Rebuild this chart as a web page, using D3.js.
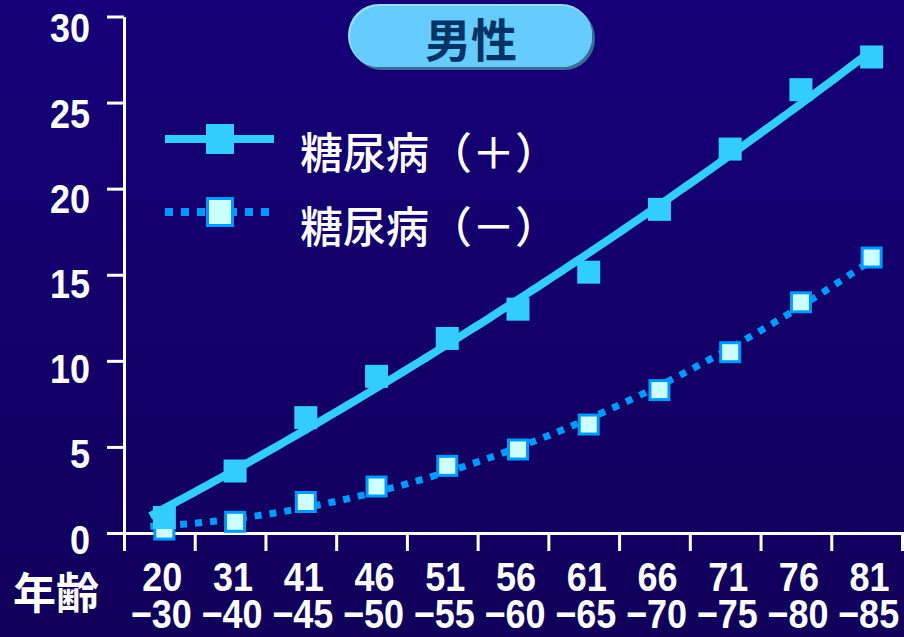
<!DOCTYPE html>
<html><head><meta charset="utf-8">
<script src="https://cdn.jsdelivr.net/npm/d3@7"></script>
<style>html,body{margin:0;padding:0;background:#130074;} svg{display:block}</style>
</head><body><svg id="chart" width="904" height="637"></svg>
<script>
// Age groups (two-line labels), series values (%) and axis ticks
const ageFrom = ["20","31","41","46","51","56","61","66","71","76","81"];
const ageTo = ["−30","−40","−45","−50","−55","−60","−65","−70","−75","−80","−85"];
const withDiabetes = [0.9, 3.6, 6.7, 9.1, 11.3, 13.0, 15.15, 18.8, 22.3, 25.75, 27.65];
const withoutDiabetes = [0.2, 0.65, 1.8, 2.7, 3.9, 4.85, 6.3, 8.3, 10.5, 13.4, 16.0];
const yTicks = [0, 5, 10, 15, 20, 25, 30];
const seriesNames = ["糖尿病（＋）", "糖尿病（－）"];
const titleText = "男性";
const xTitle = "年齢";

const svg = d3.select("#chart");
const W = 904, H = 637;

// background gradient
const defs = svg.append("defs");
const bg = defs.append("linearGradient").attr("id", "bg").attr("x1", 0).attr("y1", 0).attr("x2", 0).attr("y2", 1);
bg.append("stop").attr("offset", "0%").attr("stop-color", "#150079");
bg.append("stop").attr("offset", "100%").attr("stop-color", "#10005a");
svg.append("rect").attr("width", W).attr("height", H).attr("fill", "url(#bg)");

// scales
const x = d3.scaleBand().domain(d3.range(ageFrom.length)).range([124, 902]);
const xEdges = d3.scaleLinear().domain([0, ageFrom.length]).range([124, 902]);
const bw = x.bandwidth();
const px = i => x(i) + bw / 2 + 5;
const xi = d3.scaleLinear().domain([0, ageFrom.length - 1]).range([px(0), px(ageFrom.length - 1)]);
const y = d3.scaleLinear().domain([0, 30]).range([533, 16.5]);

const axisColor = "#ffffff";
const font = "'Liberation Sans', Arial, sans-serif";
const cjk = "'Noto Sans CJK JP', 'Noto Sans CJK SC', sans-serif";
const sx = 0.9; // horizontal squeeze of numeric labels

// y axis
const gy = svg.append("g").attr("transform", "translate(124,0)")
  .call(d3.axisLeft(y).tickValues(yTicks).tickSize(17).tickSizeOuter(0));
gy.select(".domain").attr("stroke", axisColor).attr("stroke-width", 3);
gy.selectAll(".tick line").attr("stroke", axisColor).attr("stroke-width", 3);
gy.selectAll(".tick text").attr("fill", "#fff").attr("font-family", font)
  .attr("font-weight", "bold").attr("font-size", 40)
  .attr("x", -34 / sx).attr("dy", d => 20 + d * 0.18)
  .attr("transform", `scale(${sx},1)`);

// x axis: ticks at band edges
const gx = svg.append("g").attr("transform", "translate(0,533)")
  .call(d3.axisBottom(xEdges).tickValues(d3.range(0, ageFrom.length + 1)).tickSize(18).tickFormat(""));
gx.select(".domain").attr("stroke", axisColor).attr("stroke-width", 3);
gx.selectAll(".tick line").attr("stroke", axisColor).attr("stroke-width", 3);

// x labels: one text per age group, two lines
const xl = svg.append("g").attr("transform", `scale(${sx},1)`);
const xt = xl.selectAll("text").data(ageFrom).join("text")
  .attr("text-anchor", "middle").attr("fill", "#fff").attr("font-family", font)
  .attr("font-weight", "bold").attr("font-size", 40);
xt.append("tspan").attr("x", (d, i) => (x(i) + bw / 2 + 3) / sx).attr("y", 591).text(d => d);
xt.append("tspan").attr("x", (d, i) => (x(i) + bw / 2 + 2) / sx).attr("y", 628).text((d, i) => ageTo[i]);
svg.append("text").attr("x", 56).attr("y", 609).attr("text-anchor", "middle")
  .attr("fill", "#fff").attr("font-family", cjk).attr("font-weight", "bold")
  .attr("font-size", 43).text(xTitle);

// least-squares polynomial trend
function polyfit(ys, deg) {
  const n = deg + 1;
  const A = Array.from({length: n}, () => new Array(n + 1).fill(0));
  ys.forEach((v, i) => {
    for (let r = 0; r < n; r++) {
      for (let c = 0; c < n; c++) A[r][c] += Math.pow(i, r + c);
      A[r][n] += v * Math.pow(i, r);
    }
  });
  for (let k = 0; k < n; k++) {
    let p = k;
    for (let r = k + 1; r < n; r++) if (Math.abs(A[r][k]) > Math.abs(A[p][k])) p = r;
    [A[k], A[p]] = [A[p], A[k]];
    for (let r = 0; r < n; r++) {
      if (r === k) continue;
      const f = A[r][k] / A[k][k];
      for (let c = k; c <= n; c++) A[r][c] -= f * A[k][c];
    }
  }
  const coef = A.map((row, k) => row[n] / row[k]);
  return t => coef.reduce((s, c, k) => s + c * Math.pow(t, k), 0);
}

const trendT = d3.range(-0.2, ageFrom.length - 1 + 0.001, 0.1);
const fitA = polyfit(withDiabetes, 2);
const fitB = polyfit(withoutDiabetes, 2);
const trendLine = d3.line().x(d => xi(d[0])).y(d => y(d[1]));

svg.append("path").datum(trendT.map(t => [t, fitB(t)]))
  .attr("d", trendLine).attr("fill", "none").attr("stroke", "#0099ff")
  .attr("stroke-width", 7).attr("stroke-dasharray", "7 8");
svg.append("path").datum(trendT.map(t => [t, fitA(t)]))
  .attr("d", trendLine).attr("fill", "none").attr("stroke", "#33ccff")
  .attr("stroke-width", 8);

// markers
const msA = 23, msB = 19;
svg.append("g").selectAll("rect").data(withoutDiabetes).join("rect")
  .attr("x", (d, i) => px(i) - msB / 2).attr("y", d => y(d) - msB / 2)
  .attr("width", msB).attr("height", msB)
  .attr("fill", "#ccffff").attr("stroke", "#0099ff").attr("stroke-width", 3);
svg.append("g").selectAll("rect").data(withDiabetes).join("rect")
  .attr("x", (d, i) => px(i) - msA / 2).attr("y", d => y(d) - msA / 2)
  .attr("width", msA).attr("height", msA).attr("fill", "#33ccff");

// legend
const lg = svg.append("g");
lg.append("line").attr("x1", 165).attr("x2", 274).attr("y1", 139).attr("y2", 139)
  .attr("stroke", "#33ccff").attr("stroke-width", 8);
lg.append("rect").attr("x", 206).attr("y", 124).attr("width", 28).attr("height", 30).attr("fill", "#33ccff");
lg.append("line").attr("x1", 165).attr("x2", 274).attr("y1", 212).attr("y2", 212)
  .attr("stroke", "#0099ff").attr("stroke-width", 8).attr("stroke-dasharray", "8 8");
lg.append("rect").attr("x", 207.5).attr("y", 198.5).attr("width", 25).attr("height", 27)
  .attr("fill", "#ccffff").attr("stroke", "#0099ff").attr("stroke-width", 3);
lg.selectAll("text").data(seriesNames).join("text")
  .attr("x", 300).attr("y", (d, i) => 169 + i * 74)
  .attr("fill", "#fff").attr("font-family", cjk).attr("font-size", 43).attr("font-weight", 500)
  .text(d => d);

// title pill
const tg = svg.append("g");
tg.append("rect").attr("x", 351).attr("y", 7).attr("width", 244).attr("height", 63).attr("rx", 31)
  .attr("fill", "#3a6e98");
tg.append("rect").attr("x", 348).attr("y", 4).attr("width", 244).attr("height", 63).attr("rx", 31)
  .attr("fill", "#99ddff");
tg.append("rect").attr("x", 350).attr("y", 6).attr("width", 242).attr("height", 61).attr("rx", 30)
  .attr("fill", "#66ccff");
tg.append("text").attr("x", 471).attr("y", 57).attr("text-anchor", "middle")
  .attr("fill", "#003366").attr("font-family", cjk).attr("font-weight", "bold")
  .attr("font-size", 46).text(titleText);
</script>
</body></html>
